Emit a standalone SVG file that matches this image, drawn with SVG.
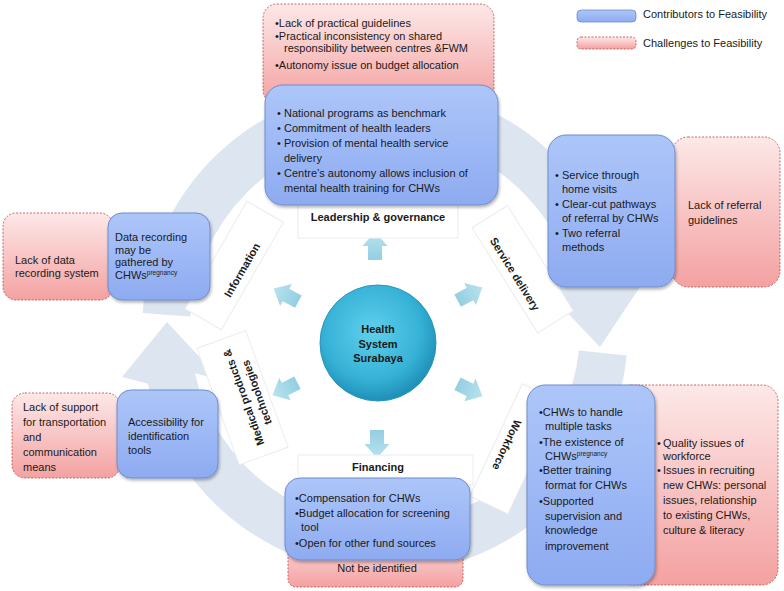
<svg xmlns="http://www.w3.org/2000/svg" width="784" height="591" viewBox="0 0 784 591">
<defs>
<linearGradient id="gb" x1="0" y1="0" x2="0" y2="1"><stop offset="0" stop-color="#adc6f9"/><stop offset="1" stop-color="#8eabf1"/></linearGradient>
<linearGradient id="gp" x1="0" y1="0" x2="0" y2="1"><stop offset="0" stop-color="#fde8e8"/><stop offset="1" stop-color="#f4a1a1"/></linearGradient>
<linearGradient id="ga" x1="0" y1="0" x2="0" y2="1"><stop offset="0" stop-color="#b9e2ee"/><stop offset="1" stop-color="#93cfe2"/></linearGradient>
<radialGradient id="gh" cx="0.45" cy="0.4" r="0.6"><stop offset="0" stop-color="#5fd0ec"/><stop offset="0.7" stop-color="#36b1d6"/><stop offset="1" stop-color="#1f8fb8"/></radialGradient>
<filter id="sh" x="-10%" y="-10%" width="125%" height="125%"><feDropShadow dx="1" dy="2" stdDeviation="1.5" flood-color="#000" flood-opacity="0.3"/></filter>
<path id="sa" d="M0,-14 L12.5,0 L7,0 L7,14 L-7,14 L-7,0 L-12.5,0 Z"/>
</defs>
<style>
.t{font-family:"Liberation Sans",Arial,sans-serif;font-size:11px;fill:#1a1a1a}
.b{font-weight:bold}
.m{text-anchor:middle}
.sup{font-size:6.5px}
.blue{fill:url(#gb);stroke:#6f8dcc;stroke-width:1;filter:url(#sh)}
.pink{fill:url(#gp);stroke:#c45a5a;stroke-width:0.9;stroke-dasharray:2 1.5}
.ring{fill:#dde5f0}
.lbl{fill:#fff;stroke:#ececec;stroke-width:1}
.arr{fill:url(#ga)}
</style>
<rect width="784" height="591" fill="#fff"/>
<g id="connectors">
<path class="ring" d="M142.6,313.1 A243,243 0 0 1 622,276.2 L646.1,277.8 L600,347 L542.5,286.8 L575.1,286.8 A195,195 0 0 0 190.5,316.4 Z"/>
<path class="ring" d="M626.7,355.4 A243,243 0 0 1 148,383.8 L122,377 L167,322 L221,380 L194.9,373.2 A195,195 0 0 0 578.9,350.4 Z"/>
<use href="#sa" class="arr" transform="translate(375,246)"/>
<use href="#sa" class="arr" transform="translate(286,295) rotate(-62)"/>
<use href="#sa" class="arr" transform="translate(470,294) rotate(62)"/>
<use href="#sa" class="arr" transform="translate(470,390) rotate(117)"/>
<use href="#sa" class="arr" transform="translate(285,389) rotate(-117)"/>
<use href="#sa" class="arr" transform="translate(377,444) rotate(180)"/>
</g>
<g id="label-leadership">
<rect class="lbl" x="298" y="197" width="160" height="41"/>
<text class="t b m" x="378" y="221">Leadership &amp; governance</text>
</g>
<g id="label-financing">
<rect class="lbl" x="298" y="455" width="175" height="30"/>
<text class="t b m" x="378" y="471">Financing</text>
</g>
<g id="label-information" transform="translate(242,270) rotate(-60)">
<rect class="lbl" x="-62" y="-30" width="124" height="42"/>
<text class="t b m" x="0" y="4">Information</text>
</g>
<g id="label-service" transform="translate(515,274) rotate(58)">
<rect class="lbl" x="-62" y="-30" width="124" height="42"/>
<text class="t b m" x="0" y="4">Service delivery</text>
</g>
<g id="label-workforce" transform="translate(507,445) rotate(115)">
<rect class="lbl" x="-62" y="-30" width="124" height="42"/>
<text class="t b m" x="0" y="4">Workforce</text>
</g>
<g id="label-medical" transform="translate(250,395) rotate(-110)">
<rect class="lbl" x="-62" y="-34" width="124" height="52"/>
<text class="t b m" x="0" y="-3">Medical products &amp;</text>
<text class="t b m" x="0" y="11">technologies</text>
</g>
<g id="hub">
<circle cx="378" cy="343" r="58" fill="url(#gh)" stroke="#2596bd" stroke-width="1"/>
<text class="t b m" x="378" y="333" fill="#10294a">Health</text>
<text class="t b m" x="378" y="348">System</text>
<text class="t b m" x="378" y="362">Surabaya</text>
</g>
<g id="leadership-challenges">
<rect class="pink" x="263" y="4" width="231" height="100" rx="14"/>
<text class="t" x="275" y="27">•Lack of practical guidelines</text>
<text class="t" x="275" y="40">•Practical inconsistency on shared</text>
<text class="t" x="284" y="52">responsibility between centres &amp;FWM</text>
<text class="t" x="275" y="69">•Autonomy issue on budget allocation</text>
</g>
<g id="leadership-contributors">
<rect class="blue" x="265" y="85" width="233" height="120" rx="18"/>
<text class="t" x="277" y="117">•</text><text class="t" x="284" y="117">National programs as benchmark</text>
<text class="t" x="277" y="132">•</text><text class="t" x="284" y="132">Commitment of health leaders</text>
<text class="t" x="277" y="147">•</text><text class="t" x="284" y="147">Provision of mental health service</text>
<text class="t" x="284" y="162">delivery</text>
<text class="t" x="277" y="177">•</text><text class="t" x="284" y="177">Centre’s autonomy allows inclusion of</text>
<text class="t" x="284" y="192">mental health training for CHWs</text>
</g>
<g id="service-challenges">
<rect class="pink" x="672" y="137" width="108" height="150" rx="16"/>
<text class="t" x="688" y="209">Lack of referral</text>
<text class="t" x="688" y="224">guidelines</text>
</g>
<g id="service-contributors">
<rect class="blue" x="548" y="135" width="127" height="152" rx="18"/>
<text class="t" x="555" y="179">•</text><text class="t" x="562" y="179">Service through</text>
<text class="t" x="562" y="193">home visits</text>
<text class="t" x="555" y="208">•</text><text class="t" x="562" y="208">Clear-cut pathways</text>
<text class="t" x="562" y="222">of referral by CHWs</text>
<text class="t" x="555" y="237">•</text><text class="t" x="562" y="237">Two referral</text>
<text class="t" x="562" y="251">methods</text>
</g>
<g id="information-challenges">
<rect class="pink" x="3" y="213" width="110" height="87" rx="13"/>
<text class="t" x="15" y="264">Lack of data</text>
<text class="t" x="15" y="277">recording system</text>
</g>
<g id="information-contributors">
<rect class="blue" x="108" y="213" width="102" height="87" rx="14"/>
<text class="t" x="115" y="241">Data recording</text>
<text class="t" x="115" y="254">may be</text>
<text class="t" x="115" y="266">gathered by</text>
<text class="t" x="115" y="279">CHWs<tspan class="sup" dy="-4">pregnancy</tspan></text>
</g>
<g id="medical-challenges">
<rect class="pink" x="12" y="393" width="108" height="85" rx="13"/>
<text class="t" x="23" y="411">Lack of support</text>
<text class="t" x="23" y="426">for transportation</text>
<text class="t" x="23" y="441">and</text>
<text class="t" x="23" y="456">communication</text>
<text class="t" x="23" y="471">means</text>
</g>
<g id="medical-contributors">
<rect class="blue" x="117" y="390" width="101" height="88" rx="14"/>
<text class="t" x="128" y="426">Accessibility for</text>
<text class="t" x="128" y="440">identification</text>
<text class="t" x="128" y="454">tools</text>
</g>
<g id="financing-challenges">
<rect class="pink" x="288" y="530" width="175" height="57" rx="8"/>
<text class="t m" x="377" y="572">Not be identified</text>
</g>
<g id="financing-contributors">
<rect class="blue" x="285" y="478" width="185" height="82" rx="15"/>
<text class="t" x="295" y="502">•Compensation for CHWs</text>
<text class="t" x="295" y="517">•Budget allocation for screening</text>
<text class="t" x="301" y="531">tool</text>
<text class="t" x="295" y="547">•Open for other fund sources</text>
</g>
<g id="workforce-challenges">
<rect class="pink" x="615" y="385" width="163" height="200" rx="16"/>
<text class="t" x="657" y="447">•</text><text class="t" x="663" y="447">Quality issues of</text>
<text class="t" x="663" y="460">workforce</text>
<text class="t" x="657" y="474">•</text><text class="t" x="663" y="474">Issues in recruiting</text>
<text class="t" x="663" y="489">new CHWs: personal</text>
<text class="t" x="663" y="504">issues, relationship</text>
<text class="t" x="663" y="519">to existing CHWs,</text>
<text class="t" x="663" y="534">culture &amp; literacy</text>
</g>
<g id="workforce-contributors">
<rect class="blue" x="527" y="385" width="128" height="200" rx="18"/>
<text class="t" x="539" y="416">•CHWs to handle</text>
<text class="t" x="545" y="430">multiple tasks</text>
<text class="t" x="539" y="446">•The existence of</text>
<text class="t" x="545" y="460">CHWs<tspan class="sup" dy="-4">pregnancy</tspan></text>
<text class="t" x="539" y="474">•Better training</text>
<text class="t" x="545" y="489">format for CHWs</text>
<text class="t" x="539" y="505">•Supported</text>
<text class="t" x="545" y="520">supervision and</text>
<text class="t" x="545" y="534">knowledge</text>
<text class="t" x="545" y="550">improvement</text>
</g>
<g id="legend">
<rect x="577" y="10" width="59" height="12" rx="4" fill="url(#gb)" stroke="#6f8dcc" stroke-width="0.8"/>
<text class="t" x="643" y="18">Contributors to Feasibility</text>
<rect x="577" y="37" width="59" height="12" rx="4" class="pink"/>
<text class="t" x="643" y="47">Challenges to Feasibility</text>
</g>
</svg>
